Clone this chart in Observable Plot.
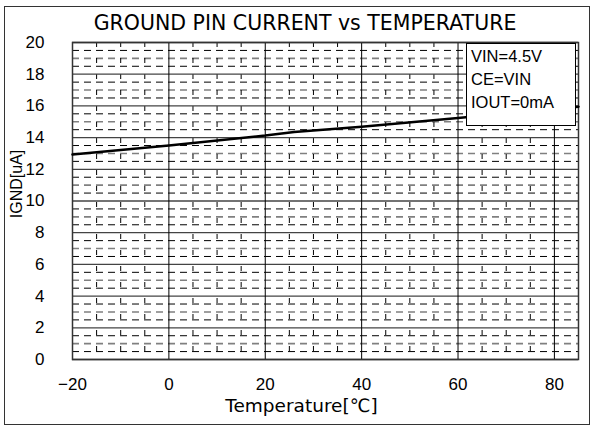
<!DOCTYPE html>
<html>
<head>
<meta charset="utf-8">
<script src="https://cdn.jsdelivr.net/npm/d3@7"></script>
<script src="https://cdn.jsdelivr.net/npm/@observablehq/plot@0.6"></script>
<style>
  html, body { margin: 0; padding: 0; background: #fff; }
  #wrap { position: relative; width: 594px; height: 428px; font-family: "Liberation Sans", Arial, sans-serif; color: #000; }
  #wrap svg { position: absolute; left: 0; top: 0; }
  #border { position: absolute; left: 4px; top: 6px; width: 586px; height: 419px; border: 1.5px solid #333; box-sizing: border-box; pointer-events: none; }
  #title { position: absolute; left: 0; width: 610px; top: 11px; text-align: center; font-family: "DejaVu Sans", sans-serif; font-size: 20.5px; line-height: 24px; white-space: nowrap; }
  #legend { position: absolute; left: 466px; top: 43px; width: 110px; height: 83px; box-sizing: border-box; border: 1.5px solid #000; background: #fff; font-size: 16.5px; line-height: 23px; padding: 1px 0 0 4px; }
</style>
</head>
<body>
<div id="wrap">
  <div id="border"></div>
</div>
<script>
// ---- data ----
const title = "GROUND PIN CURRENT vs TEMPERATURE";
const xLabel = "Temperature[℃]";
const yLabel = "IGND[uA]";
const legendLines = ["VIN=4.5V", "CE=VIN", "IOUT=0mA"];
const temperature = [-20, 0, 20, 26, 40, 60, 85];
const ignd = [12.93, 13.5, 14.13, 14.36, 14.69, 15.24, 15.95];
const xTicks = [-20, 0, 20, 40, 60, 80];
const yTicks = [0, 2, 4, 6, 8, 10, 12, 14, 16, 18, 20];
const xDomain = [-20, 85];
const yDomain = [0, 20];

const series = temperature.map((t, i) => ({t, v: ignd[i]}));
const minorX = d3.range(-20, 85, 5).filter(v => v % 20 !== 0);
const minorYhalf = d3.range(0.5, 20, 1);          // x.5 rows
const minorYodd = d3.range(1, 20, 2);             // odd integer rows

const chart = Plot.plot({
  width: 594,
  height: 428,
  marginLeft: 72,
  marginRight: 16,
  marginTop: 42,
  marginBottom: 69,
  style: {fontFamily: "Liberation Sans, Arial, sans-serif", fontSize: "17px", color: "#000", background: "transparent", overflow: "visible"},
  x: {domain: xDomain},
  y: {domain: yDomain},
  marks: [
    Plot.ruleY(minorYhalf, {stroke: "#000", strokeWidth: 1, strokeDasharray: "7,5"}),
    Plot.ruleY(minorYodd, {stroke: "#808080", strokeWidth: 1.6, strokeDasharray: "7,5"}),
    Plot.ruleX(minorX, {stroke: "#000", strokeWidth: 1, strokeDasharray: "5,11"}),
    Plot.ruleY(yTicks, {stroke: "#444", strokeWidth: 1.3}),
    Plot.ruleX(xTicks, {stroke: "#000", strokeWidth: 1}),
    Plot.frame({stroke: "#333", strokeWidth: 1.5}),
    Plot.line(series, {x: "t", y: "v", stroke: "#000", strokeWidth: 2.5}),
    Plot.axisX({ticks: xTicks, tickSize: 0, tickPadding: 18, label: null, fontSize: 17}),
    Plot.axisY({ticks: yTicks, tickSize: 0, tickPadding: 28, label: null, fontSize: 17}),
    Plot.text([xLabel], {frameAnchor: "bottom", dx: -24, dy: 47, fontSize: 18.5, fontFamily: "DejaVu Sans, sans-serif", lineAnchor: "middle"}),
    Plot.text([yLabel], {frameAnchor: "left", rotate: -90, dx: -56, dy: -17, fontSize: 16, textAnchor: "middle", lineAnchor: "middle"})
  ]
});

const wrap = document.getElementById("wrap");
wrap.insertBefore(chart, wrap.firstChild);

const t = document.createElement("div");
t.id = "title";
t.textContent = title;
wrap.appendChild(t);

const lg = document.createElement("div");
lg.id = "legend";
legendLines.forEach(s => { const d = document.createElement("div"); d.textContent = s; lg.appendChild(d); });
wrap.appendChild(lg);
</script>
</body>
</html>
